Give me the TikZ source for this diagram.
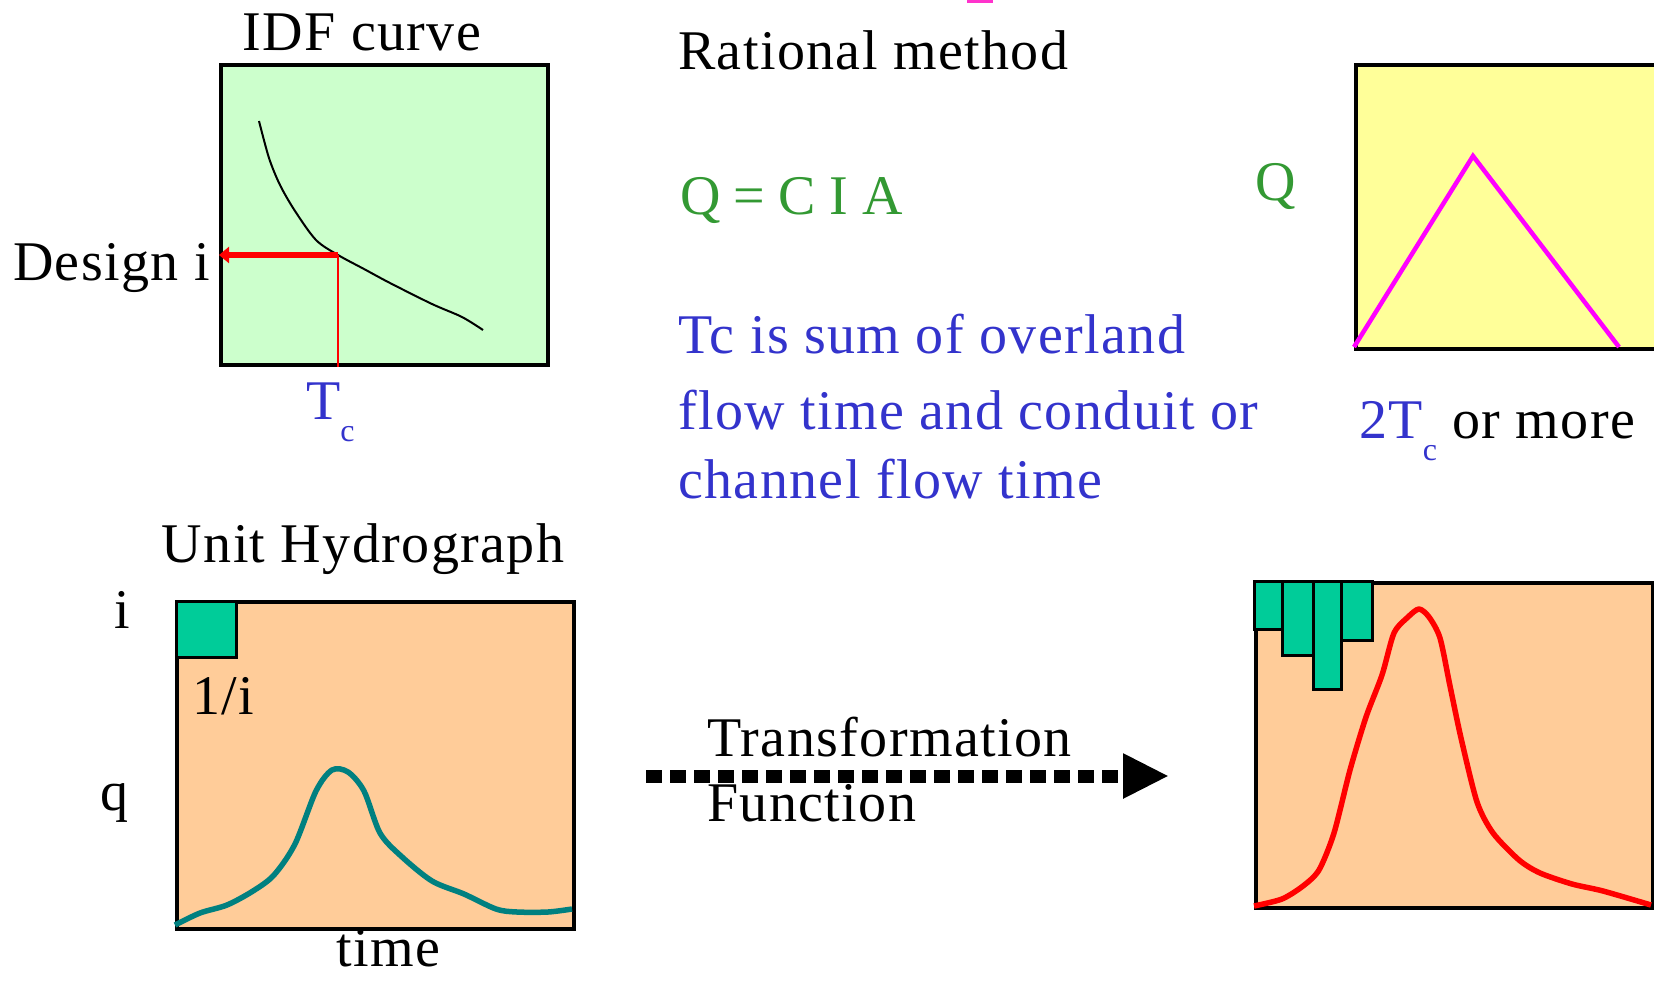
\documentclass[tikz,border=0pt]{standalone}
\usepackage{fontspec}
\setmainfont{Liberation Serif}[LetterSpace=2.5]
\usetikzlibrary{arrows.meta}
\definecolor{idfgreen}{HTML}{CCFFCC}
\definecolor{hydroyellow}{HTML}{FFFF99}
\definecolor{hydromagenta}{HTML}{FF00FF}
\definecolor{markpink}{HTML}{FF33CC}
\definecolor{peach}{HTML}{FFCC99}
\definecolor{rainteal}{HTML}{00CC99}
\definecolor{flowteal}{HTML}{008080}
\definecolor{textblue}{HTML}{3333CC}
\definecolor{textgreen}{HTML}{339933}
\newcommand\subc{\raisebox{-0.4em}{\fontsize{32}{32}\selectfont c}}
\begin{document}
\begin{tikzpicture}[
x=1pt,y=-1pt,
every node/.style={font=\fontsize{56}{60}\selectfont,inner sep=0pt},
chartbox/.style={draw=black,line width=3.5pt,anchor=north west},
label/.style={anchor=base west},
rainbar/.style={draw=black,line width=3pt,fill=rainteal},
flowline/.style={line width=5.5pt,line join=round}
]
\useasboundingbox (0,0) rectangle (1654,980);
% top left: IDF curve
\node[chartbox,fill=idfgreen,minimum width=327pt,minimum height=300pt] (idf) at (219,63) {};
\node[anchor=base] (idftitle) at (362,50) {IDF curve};
\draw[line width=2pt] plot[smooth] coordinates {(259,121) (269,158) (280,185) (295,211) (316,240) (338,255) (364,269) (390,283) (432,304) (462,317) (483,330)};
\coordinate (tc) at (338,255);
\draw[red,line width=2pt] (tc) -- (tc |- idf.south);
\draw[red,line width=6pt,-{Triangle[length=10pt,width=16pt]}] (tc) -- (tc -| idf.west);
\node[label] (design) at (13,280) {Design i};
\node[label,textblue] (tclabel) at (306,419) {T\subc};
% top middle: rational method
\node[label] (rational) at (678,69) {Rational method};
\node[label,textgreen] (cia) at (680,214) {Q\hspace{13pt}=\hspace{13pt}C\hspace{14pt}I\hspace{14pt}A};
\node[label,textblue] (tcline1) at (678,353) {Tc is sum of overland};
\node[label,textblue] (tcline2) at (678,429) {flow time and conduit or};
\node[label,textblue] (tcline3) at (678,498) {channel flow time};
\fill[markpink] (967,0) rectangle (993,3);
% top right: triangular hydrograph
\node[chartbox,fill=hydroyellow,minimum width=330pt,minimum height=284pt] (tri) at (1354,63) {};
\node[label,textgreen] (qlabel) at (1255,200) {Q};
\draw[hydromagenta,line width=4.5pt] (1354,347) -- (1473,156) -- (1619,347);
\node[label] (base) at (1359,438) {\textcolor{textblue}{2T\subc} or more};
% bottom left: unit hydrograph
\node[chartbox,fill=peach,minimum width=397pt,minimum height=327pt] (uh) at (175,600) {};
\node[chartbox,fill=rainteal,line width=3pt,minimum width=60pt,minimum height=56pt] (pulse) at (uh.north west) {};
\node[anchor=base] (uhtitle) at (363,562) {Unit Hydrograph};
\node[label] (ilabel) at (114,628) {i};
\node[label] (qsmall) at (100,810) {q};
\node[label] (oneover) at (192,714) {1/i};
\node[label] (time) at (336,966) {time};
\draw[flowteal,flowline] plot[smooth] coordinates {(175,925) (200,913) (227,905) (253,891) (274,875) (295,844) (316,791) (332,770) (348,772) (364,791) (380,833) (401,856) (432,881) (464,894) (496,909) (517,912) (548,912) (572,909)};
% transformation arrow
\coordinate (tfstart) at (646,776);
\coordinate (tfend) at (1169,776);
\draw[line width=13pt,dash pattern=on 16pt off 8pt,-{Triangle[length=46pt,width=42pt]}] (tfstart) -- (tfend);
\node[label] (transf) at (707,756) {Transformation};
\node[label] (funct) at (707,821) {Function};
% bottom right: storm hydrograph
\node[chartbox,fill=peach,minimum width=397pt,minimum height=325pt] (storm) at (1254,581) {};
\foreach \xa/\xb/\yb in {1254/1282/629,1282/1313/655,1313/1341/689,1341/1372/640}
  \draw[rainbar] (\xa,581) rectangle (\xb,\yb);
\draw[red,flowline] plot[smooth,tension=0.45] coordinates {(1254,906) (1282,899) (1303,886) (1319,870) (1334,833) (1350,770) (1366,717) (1382,675) (1394,633) (1408,617) (1419,609) (1429,617) (1440,638) (1450,686) (1461,738) (1477,802) (1493,833) (1519,860) (1540,873) (1572,884) (1603,891) (1651,905)};
\end{tikzpicture}
\end{document}
